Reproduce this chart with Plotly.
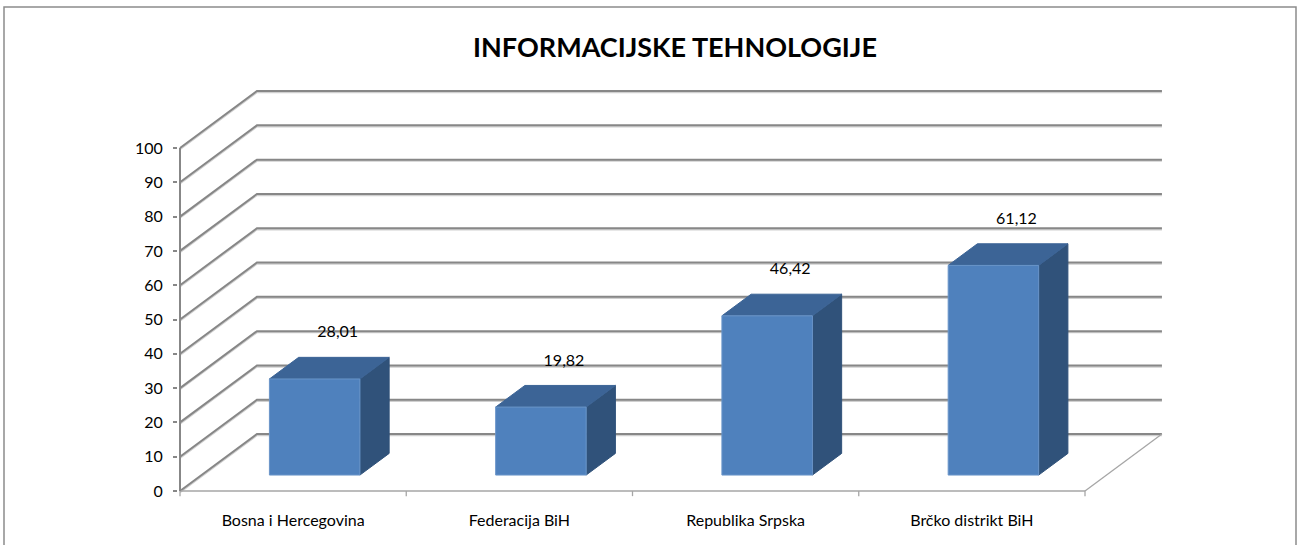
import plotly.graph_objects as go

# ---------------- data ----------------
categories = ["Bosna i Hercegovina", "Federacija BiH", "Republika Srpska", "Brčko distrikt BiH"]
values = [28.01, 19.82, 46.42, 61.12]
value_labels = ["28,01", "19,82", "46,42", "61,12"]
y_ticks = [0, 10, 20, 30, 40, 50, 60, 70, 80, 90, 100]
title_text = "INFORMACIJSKE TEHNOLOGIJE"

# ---------------- 3D (oblique) projection settings ----------------
DX = 0.34      # depth shift in category units
DY = 16.6      # depth shift in value units
BAR_W = 0.40   # bar width in category units
D0, D1 = 0.28, 0.66   # bar front/back depth fractions
LABEL_DEPTH = 0.58
LABEL_GAP = 8.3

GRID = "#878787"
FRONT = "#4F81BD"
TOP = "#3C6496"
SIDE = "#30527A"
FONT = "Lato"

def P(x, y, d):
    return x + d * DX, y + d * DY

n = len(categories)
x_left, x_right = -0.5, n - 0.5
y_max = y_ticks[-1]

fig = go.Figure()

# back wall + left wall gridlines (light shadow first, then line)
gx, gy = [], []
for v in y_ticks:
    for d_pt in [P(x_left, v, 0), P(x_left, v, 1), P(x_right, v, 1)]:
        gx.append(d_pt[0]); gy.append(d_pt[1])
    gx.append(None); gy.append(None)
fig.add_trace(go.Scatter(x=gx, y=[None if g is None else g - 0.35 for g in gy], mode="lines",
                         line=dict(color="#d0d0d0", width=2),
                         hoverinfo="skip", showlegend=False))
fig.add_trace(go.Scatter(x=gx, y=gy, mode="lines", line=dict(color=GRID, width=2),
                         hoverinfo="skip", showlegend=False))

# floor edges (front edge + right edge)
fx, fy = [], []
for a, b in [(P(x_left, 0, 0), P(x_right, 0, 0)), (P(x_right, 0, 0), P(x_right, 0, 1))]:
    fx += [a[0], b[0], None]; fy += [a[1], b[1], None]
fig.add_trace(go.Scatter(x=fx, y=fy, mode="lines", line=dict(color="#a6a6a6", width=1.3),
                         hoverinfo="skip", showlegend=False))

# category boundary tick marks on the floor edge
tx, ty = [], []
for k in range(n + 1):
    xb = x_left + k
    tx += [xb, xb, None]; ty += [0, -1.5, None]
fig.add_trace(go.Scatter(x=tx, y=ty, mode="lines", line=dict(color="#a6a6a6", width=1.3),
                         hoverinfo="skip", showlegend=False))

# front vertical value axis line
fig.add_trace(go.Scatter(x=[x_left, x_left], y=[0, y_max], mode="lines",
                         line=dict(color=GRID, width=2), hoverinfo="skip", showlegend=False))

# bars
for i, v in enumerate(values):
    xl, xr = i - BAR_W / 2, i + BAR_W / 2
    faces = [
        ([P(xr, 0, D0), P(xr, 0, D1), P(xr, v, D1), P(xr, v, D0)], SIDE, SIDE),
        ([P(xl, v, D0), P(xr, v, D0), P(xr, v, D1), P(xl, v, D1)], TOP, TOP),
        ([P(xl, 0, D0), P(xr, 0, D0), P(xr, v, D0), P(xl, v, D0)], FRONT, "#6a95c9"),
    ]
    for pts, col, edge in faces:
        fig.add_trace(go.Scatter(
            x=[p[0] for p in pts] + [pts[0][0]],
            y=[p[1] for p in pts] + [pts[0][1]],
            mode="lines", fill="toself", fillcolor=col,
            line=dict(color=edge, width=1), hoverinfo="skip", showlegend=False))

# data labels
fig.add_trace(go.Scatter(
    x=[i + LABEL_DEPTH * DX for i in range(n)],
    y=[v + LABEL_DEPTH * DY + LABEL_GAP for v in values],
    mode="text", text=value_labels, textposition="middle center",
    textfont=dict(family=FONT, size=16, color="black"),
    hoverinfo="skip", showlegend=False, cliponaxis=False))

# ---------------- layout ----------------
W, H = 1298, 545
ML, MR, MT, MB = 178, 120, 80, 48
PX_PER_CAT = 226.25
PX_PER_VAL = 3.43
plot_w = W - ML - MR
plot_h = H - MT - MB
x0 = x_left - 2 / PX_PER_CAT
x1 = x0 + plot_w / PX_PER_CAT
y0 = -(6 / PX_PER_VAL)
y1 = y0 + plot_h / PX_PER_VAL

fig.update_layout(
    width=W, height=H,
    margin=dict(l=ML, r=MR, t=MT, b=MB, autoexpand=False),
    paper_bgcolor="white", plot_bgcolor="white",
    font=dict(family=FONT, size=16, color="black"),
    title=dict(text="<b>" + title_text + "</b>", x=675 / W, xref="container", xanchor="center",
               y=1 - 48 / H, yref="container", yanchor="middle",
               font=dict(family=FONT, size=27, color="black")),
    xaxis=dict(range=[x0, x1], tickmode="array", tickvals=list(range(n)), ticktext=categories,
               showgrid=False, zeroline=False, showline=False, ticks="",
               ticklabelstandoff=12, tickfont=dict(family=FONT, size=16, color="black"),
               fixedrange=True),
    yaxis=dict(range=[y0, y1], tickmode="array", tickvals=y_ticks,
               ticktext=[str(t) for t in y_ticks],
               showgrid=False, zeroline=False, showline=False,
               ticks="outside", ticklen=4, tickcolor=GRID, tickwidth=1.5,
               ticklabelstandoff=7,
               tickfont=dict(family=FONT, size=16, color="black"), fixedrange=True),
    shapes=[dict(type="rect", xref="paper", yref="paper",
                 x0=(4 - ML) / plot_w, x1=(1296 - ML) / plot_w,
                 y0=(H - MB - 560) / plot_h, y1=(H - MB - 7) / plot_h,
                 line=dict(color="#8c8c8c", width=1.5), fillcolor="rgba(0,0,0,0)", layer="below")],
)

fig.write_html("out.html", config={"displayModeBar": False},
               post_script="document.body.style.margin='0';")
